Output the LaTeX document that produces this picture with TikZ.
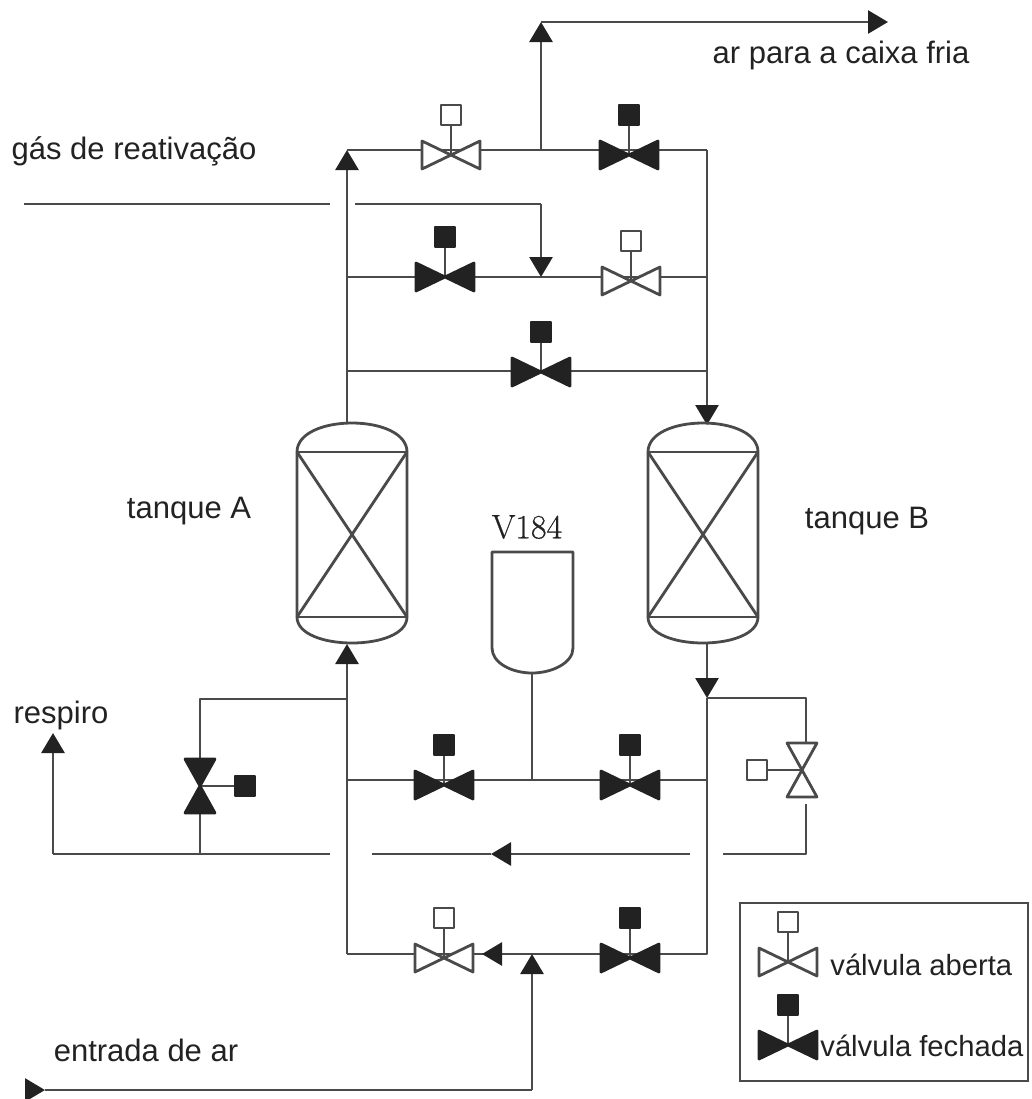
\documentclass[tikz,border=0pt]{standalone}
\usepackage{fontspec}
\setmainfont{Liberation Sans}
\newfontfamily\vesselfont[FakeBold=0.5]{Latin Modern Roman}
\usetikzlibrary{arrows.meta}
\definecolor{pipecol}{HTML}{4A4A4A}
\definecolor{darkcol}{HTML}{222222}
\begin{document}
\begin{tikzpicture}[
   x=0.5pt,y=-0.5pt,
   pipe/.style={pipecol,line width=1.4pt,line join=round},
   flow/.style={pipe,-{Triangle[length=10pt,width=11.5pt,color=darkcol]}},
   vopen/.style={pipe,draw=pipecol,fill=white},
   vshut/.style={pipe,draw=darkcol,fill=darkcol},
   actuator/.style={rectangle,inner sep=0pt,minimum size=10pt},
   lab/.style={text=darkcol,inner sep=0pt,font=\fontsize{15.5}{18}\selectfont},
   leglab/.style={text=darkcol,inner sep=0pt,anchor=west,font=\fontsize{14.6}{18}\selectfont}
 ]
  \useasboundingbox (0,0) rectangle (1032,1099);

  % junctions
  \foreach \x/\y/\i in {347/150/ja1,707/150/jb1,541/150/jo1,541/22/jo2,888/22/jo3,
      347/277/ja2,707/277/jb2,541/277/jm,347/371/ja3,707/371/jb3,
      24/204/g1,330/204/g2,355/204/g3,541/204/g4,
      347/423/ta,707/425/tb,347/644/tc,707/643/td,
      347/699/ja4,200/699/r1,200/854/r2,
      347/780/ja5,707/780/jb5,532/780/js,532/673/vs,
      707/698/jb4,806/698/d1,806/743/d2,806/804/d3,806/854/d4,723/854/d5,
      690/854/m1,491/854/m2,372/854/m3,330/854/l1,53/854/l2,53/733/l3,
      347/954/ja6,707/954/jb6,532/954/ji,482/954/jv,532/1090/in1,45/1090/in2,25/1090/in3} {
    \coordinate (\i) at (\x,\y);
  }

  % pipes
  \draw[flow] (ta)--(ja1);
  \draw[pipe] (ja1)--(jb1);
  \draw[flow] (jb1)--(tb);
  \draw[flow] (jo1)--(jo2);
  \draw[flow] (jo2)--(jo3);
  \draw[pipe] (ja2)--(jb2);
  \draw[pipe] (ja3)--(jb3);
  \draw[pipe] (g1)--(g2);
  \draw[pipe] (g3)--(g4);
  \draw[flow] (g4)--(jm);
  \draw[flow] (ja6)--(tc);
  \draw[pipe] (ja4)--(r1)--(r2);
  \draw[pipe] (ja5)--(jb5);
  \draw[pipe] (js)--(vs);
  \draw[flow] (td)--(jb4);
  \draw[pipe] (jb4)--(jb6)--(ja6);
  \draw[pipe] (jb4)--(d1)--(d2);
  \draw[pipe] (d3)--(d4)--(d5);
  \draw[flow] (m1)--(m2);
  \draw[pipe] (m2)--(m3);
  \draw[pipe] (l1)--(l2);
  \draw[flow] (l2)--(l3);
  \draw[flow] (ji)--(jv);
  \draw[flow] (in1)--(ji);
  \draw[pipe] (in1)--(in2);
  \draw[flow] (in3)--(in2);

  % vessels
  \foreach \x/\i in {297/a,648/b} {
    \draw[pipe] (\x,452) .. controls (\x,433) and (\x+27,423) .. (\x+55,423)
      .. controls (\x+83,423) and (\x+110,433) .. (\x+110,452)
      -- (\x+110,617) .. controls (\x+110,634) and (\x+83,643) .. (\x+55,643)
      .. controls (\x+27,643) and (\x,634) .. (\x,617) -- cycle;
    \draw[pipe] (\x,452)--(\x+110,452) (\x,617)--(\x+110,617);
    \draw[pipe] (\x,452)--(\x+110,617) (\x+110,452)--(\x,617);
  }
  \draw[pipe] (492,552)--(573,552)--(573,648) .. controls (573,663) and (552,673) .. (vs)
    .. controls (512,673) and (492,663) .. (492,648) -- cycle;

  % valves on horizontal lines
  \foreach \x/\y/\i/\s in {451/155/a/vopen,629/155/b/vshut,445/277/c/vshut,631/281/d/vopen,
      541/372/e/vshut,444/785/f/vshut,630/785/g/vshut,444/958/h/vopen,630/958/i/vshut,
      788/962/j/vopen,788/1045/k/vshut} {
    \coordinate (v\i) at (\x,\y);
    \node[actuator,\s] (s\i) at (\x,\y-40) {};
    \draw[pipe] (v\i)--(s\i);
    \draw[\s] (\x-29,\y-14)--(\x+29,\y+14)--(\x+29,\y-14)--(\x-29,\y+14)--cycle;
  }
  % valves on vertical lines
  \coordinate (vm) at (200,786);
  \coordinate (vn) at (802,770);
  \node[actuator,vshut] (sm) at (245,786) {};
  \node[actuator,vopen] (sn) at (757,770) {};
  \draw[pipe] (vm)--(sm);
  \draw[pipe] (vn)--(sn);
  \foreach \x/\y/\i/\s in {200/786/m/vshut,802/770/n/vopen} {
    \draw[\s] (\x-15,\y-27)--(\x+15,\y+27)--(\x-15,\y+27)--(\x+15,\y-27)--cycle;
  }

  % legend
  \node[draw=pipecol,line width=1.4pt,inner sep=0pt,minimum width=144pt,minimum height=89pt] (legend) at (884,992) {};
  \node[leglab] (tj) at (830,965) {válvula aberta};
  \node[leglab] (tk) at (820,1046) {válvula fechada};

  \node[lab] (tout) at (841,55) {ar para a caixa fria};
  \node[lab] (tgas) at (134,151) {gás de reativação};
  \node[lab] (tqa) at (189,511) {tanque A};
  \node[lab] (tqb) at (867,521) {tanque B};
  \node[lab] (tres) at (61,715) {respiro};
  \node[lab] (tin) at (146,1050) {entrada de ar};
  \node[text=darkcol,inner sep=0pt,font=\vesselfont\fontsize{17}{18}\selectfont] (tv) at (527,527) {V184};
\end{tikzpicture}
\end{document}
